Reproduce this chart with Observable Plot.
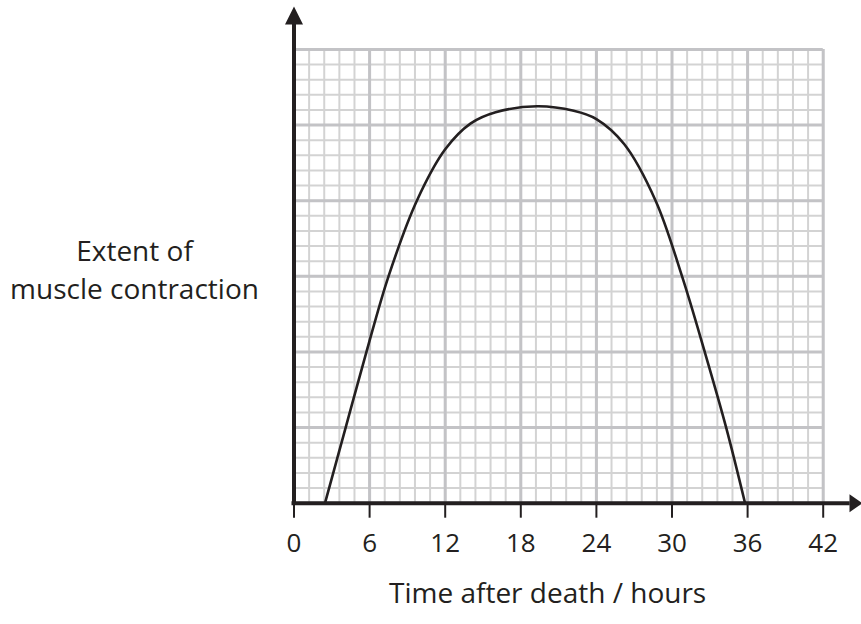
<!DOCTYPE html>
<html>
<head>
<meta charset="utf-8">
<script src="https://cdn.jsdelivr.net/npm/d3@7"></script>
<script src="https://cdn.jsdelivr.net/npm/@observablehq/plot@0.6"></script>
<style>
  html, body { margin: 0; padding: 0; background: #fff; }
  #chart svg { display: block; }
</style>
</head>
<body>
<div id="chart"></div>
<script>
// Data
const hours  = [2.46, 4.1, 5.75, 7.5, 9.75, 12.0, 14.0, 16.0, 19.3, 22.2, 24.0, 26.2, 28.7, 30.8, 32.6, 34.3, 35.8];
const extent = [0,    1,   2,    3,   4,    4.68, 5.02, 5.17, 5.25, 5.19, 5.08, 4.75, 4.0,  3.0,  2.0,  1.0,  0];

const xDomain = [0, 42];
const yDomain = [0, 6];
const xTicks = [0, 6, 12, 18, 24, 30, 36, 42];
const yMajor = [0, 1, 2, 3, 4, 5, 6];
const xMinorStep = 1.2;
const yMinorStep = 0.2;

const xLabel = "Time after death / hours";
const yLabel = "Extent of\nmuscle contraction";

const data = hours.map((h, i) => ({hours: h, extent: extent[i]}));
const xMinor = d3.range(xDomain[0], xDomain[1] + 1e-9, xMinorStep);
const yMinor = d3.range(yDomain[0], yDomain[1] + 1e-9, yMinorStep);

const ink = "#231f20";
const font = "'Open Sans', sans-serif";

const triangle = {
  draw(context, l) {
    context.moveTo(-9, 0);
    context.lineTo(9, 0);
    context.lineTo(0, -l);
    context.closePath();
  }
};

const chart = Plot.plot({
  width: 861,
  height: 624,
  marginLeft: 293.5,
  marginRight: 38.3,
  marginTop: 49,
  marginBottom: 121.3,
  style: {fontFamily: font, background: "#fff", color: ink},
  x: {domain: xDomain},
  y: {domain: yDomain, axis: null},
  marks: [
    Plot.ruleX(xMinor, {stroke: "#d3d3d3", strokeWidth: 2}),
    Plot.ruleY(yMinor, {stroke: "#d3d3d3", strokeWidth: 2}),
    Plot.ruleX(xTicks, {stroke: "#c3c3c6", strokeWidth: 3}),
    Plot.ruleY(yMajor, {stroke: "#c3c3c6", strokeWidth: 3}),
    Plot.line(data, {x: "hours", y: "extent", curve: "catmull-rom", stroke: ink, strokeWidth: 2.6}),
    Plot.ruleY([yDomain[0]], {stroke: ink, strokeWidth: 4, insetLeft: -2, insetRight: -27}),
    Plot.ruleX([xDomain[0]], {stroke: ink, strokeWidth: 4, insetTop: -26, insetBottom: -2}),
    Plot.vector([{x: xDomain[0], y: yDomain[1]}], {x: "x", y: "y", length: 18, anchor: "start", shape: triangle, fill: ink, stroke: "none", dy: -25}),
    Plot.vector([{x: xDomain[1], y: yDomain[0]}], {x: "x", y: "y", length: 13, rotate: 90, anchor: "start", shape: triangle, fill: ink, stroke: "none", dx: 26.3}),
    Plot.axisX(xTicks, {tickSize: 15, tickPadding: 15, fontSize: 26, strokeWidth: 2, stroke: ink, fill: ink, label: null}),
    Plot.text([xLabel], {frameAnchor: "bottom", dx: -11, dy: 100, fontSize: 28, fill: ink, text: d => d}),
    Plot.text([yLabel], {frameAnchor: "left", dx: -159.5, dy: -9, fontSize: 28, lineHeight: 1.36, textAnchor: "middle", fill: ink, text: d => d})
  ]
});

document.getElementById("chart").appendChild(chart);
</script>
</body>
</html>
